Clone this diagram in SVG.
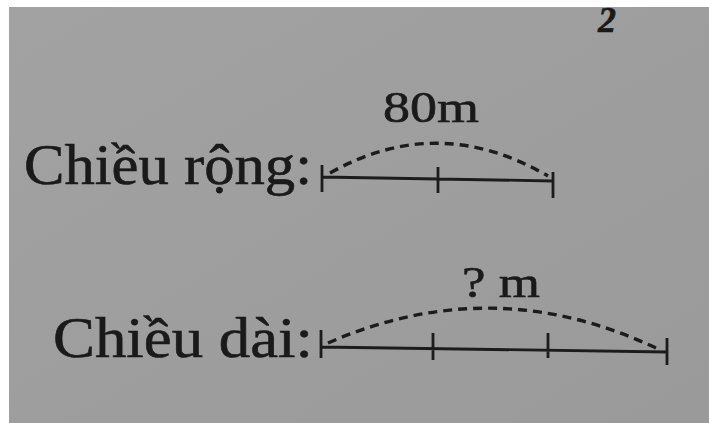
<svg xmlns="http://www.w3.org/2000/svg" width="709" height="423" viewBox="0 0 709 423">
<style>
.lbl{font-family:"Liberation Serif","Times New Roman",serif;fill:#1a1a1a;stroke:#1a1a1a;stroke-width:0.6}
.seg{stroke:#1c1c1c;stroke-width:2.8;fill:none;stroke-linecap:butt}
.arc{stroke:#1c1c1c;stroke-width:3.4;fill:none;stroke-dasharray:9 6}
</style>
<defs>
<linearGradient id="bg" x1="0" y1="0" x2="1" y2="1">
<stop offset="0" stop-color="#a2a2a2"/>
<stop offset="0.5" stop-color="#9e9e9e"/>
<stop offset="1" stop-color="#9a9a9a"/>
</linearGradient>
</defs>
<rect x="0" y="0" width="709" height="423" fill="#ffffff"/>
<rect x="9" y="7" width="700" height="416" fill="url(#bg)"/>
<text class="lbl" x="598" y="32" font-size="36" font-style="italic" font-weight="bold">2</text>
<g id="label-width">
<text class="lbl" x="24" y="184" font-size="58" textLength="288" lengthAdjust="spacingAndGlyphs">Chiều rộng:</text>
</g>
<g id="label-length">
<text class="lbl" x="53" y="357" font-size="56" textLength="260" lengthAdjust="spacingAndGlyphs">Chiều dài:</text>
</g>
<g id="bar-width">
<path class="seg" d="M322,177 L553,181 M322,165 V192 M438,167 V193 M553,172 V198"/>
</g>
<g id="bar-length">
<path class="seg" d="M321,347 L667,352 M321,330 V358 M433,333 V360 M548,333 V358 M667,338 V365"/>
</g>
<g id="value-width">
<text class="lbl" x="383" y="122" font-size="44" textLength="96" lengthAdjust="spacingAndGlyphs">80m</text>
</g>
<g id="value-length">
<text class="lbl" x="462" y="297" font-size="44" textLength="78" lengthAdjust="spacingAndGlyphs">? m</text>
</g>
<g id="connectors">
<path class="arc" d="M330,173 Q438,112 548,176"/>
<path class="arc" d="M328,343 Q495,270 660,350"/>
</g>
</svg>
